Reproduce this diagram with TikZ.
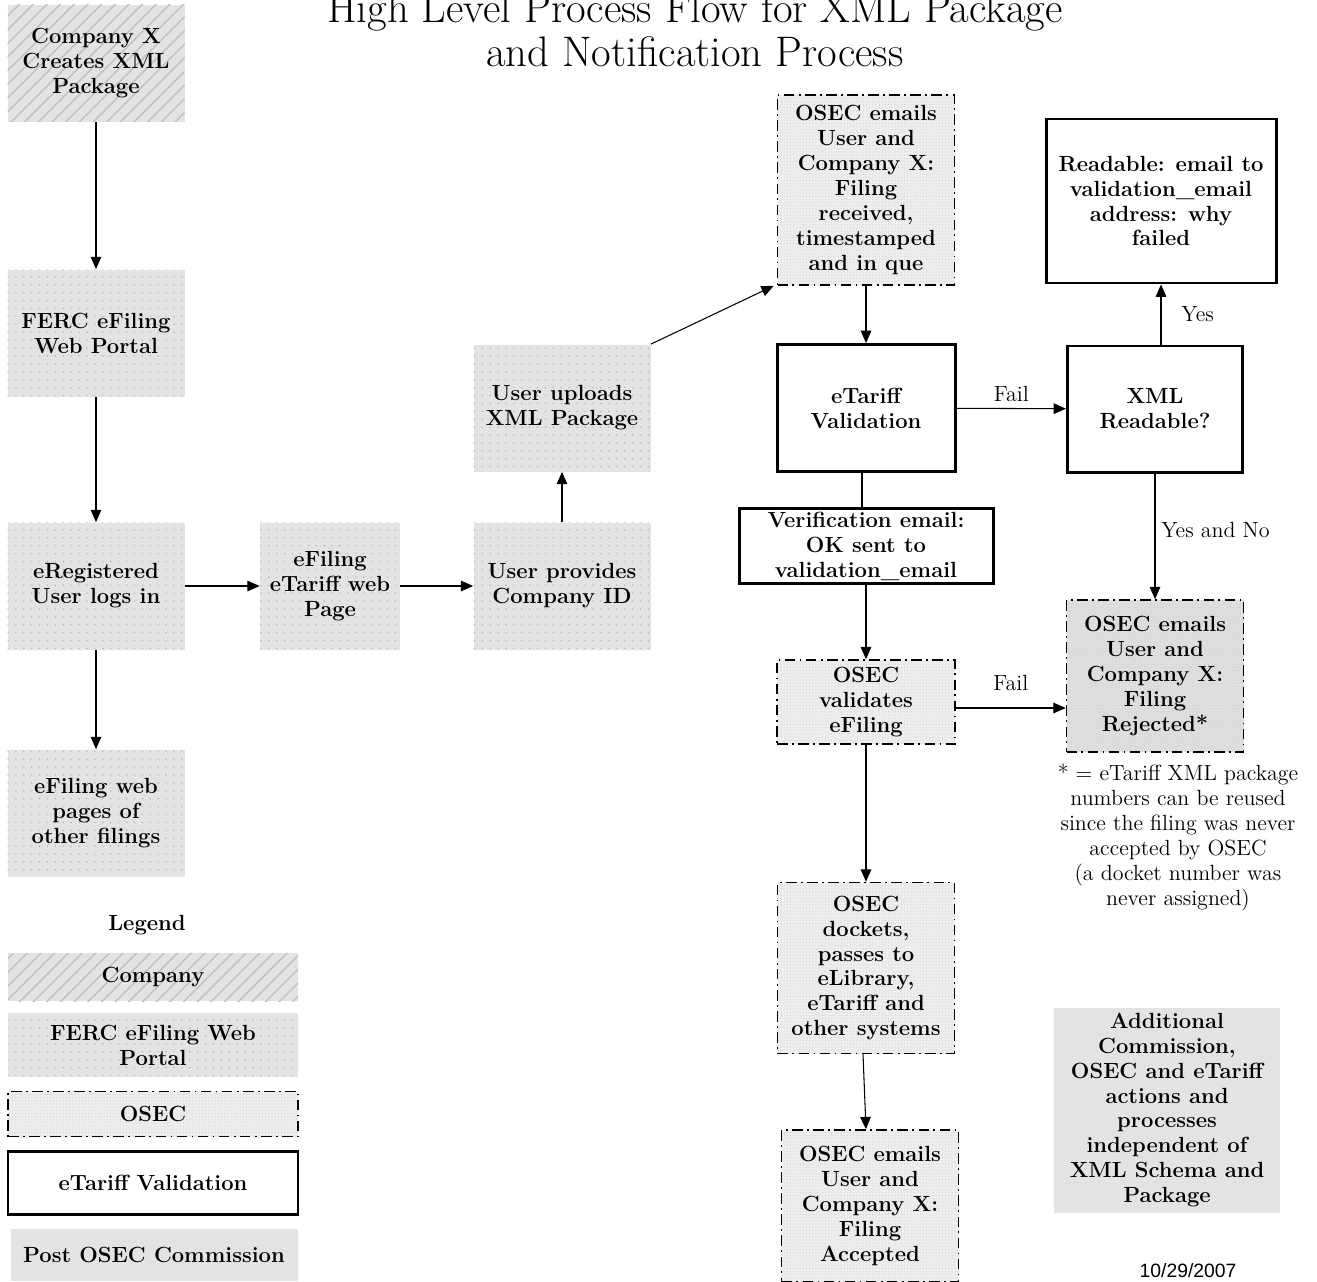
\documentclass[tikz,border=0pt]{standalone}
\usetikzlibrary{patterns.meta,arrows.meta}
\usepackage{fontspec}
\newfontfamily\datefont{Liberation Sans}
\begin{document}
\begin{tikzpicture}[x=0.02cm,y=-0.02cm,
  sz/.style 2 args={minimum width=#1*0.02cm, minimum height=#2*0.02cm},
  base/.style={inner sep=1pt, align=center, font=\bfseries\fontsize{12.5}{14.2}\selectfont},
  company/.style={base, preaction={fill=black!11}, pattern={Lines[angle=45,distance=5.5pt,line width=0.8pt]}, pattern color=black!25},
  ferc/.style={base, preaction={fill=black!11}, pattern={Dots[distance=4.5pt,radius=0.45pt]}, pattern color=black!30},
  osec/.style={base, preaction={fill=black!7}, pattern={Dots[distance=1.8pt,radius=0.3pt]}, pattern color=black!18,
     draw, line width=0.9pt, dash pattern=on 6pt off 2.5pt on 1pt off 2.5pt},
  osecdark/.style={osec, preaction={fill=black!13}},
  valbox/.style={base, draw, line width=1.7pt, fill=white},
  post/.style={base, fill=black!11},
  arr/.style={-{Triangle[length=7pt,width=6pt]}, line width=0.6pt},
  lnk/.style={line width=0.6pt},
  lbl/.style={font=\fontsize{12.5}{14.2}\selectfont}
]
\useasboundingbox (0,0) rectangle (1317,1281);

% title
\node[font=\fontsize{24.3}{25}\selectfont, align=center, inner sep=0pt] (title) at (695,30) {High Level Process Flow for XML Package\\and Notification Process};

% left column
\node[company, sz={177}{117}] (cx) at (96,63) {Company X\\Creates XML\\Package};
\node[ferc, sz={177}{127}] (ferc) at (96,333) {FERC eFiling\\Web Portal};
\node[ferc, sz={177}{127}] (ereg) at (96,586) {eRegistered\\User logs in};
\node[ferc, sz={177}{127}] (other) at (96,813) {eFiling web\\pages of\\other filings};
\node[ferc, sz={140}{127}] (etp) at (330,586) {eFiling\\eTariff web\\Page};
\node[ferc, sz={177}{127}] (cid) at (562,586) {User provides\\Company ID};
\node[ferc, sz={177}{127}] (upl) at (562,408) {User uploads\\XML Package};

% right part
\node[osec, sz={177}{190}] (recv) at (866,190) {OSEC emails\\User and\\Company X:\\Filing\\received,\\timestamped\\and in que};
\node[valbox, sz={178}{127}] (val) at (866,408) {eTariff\\Validation};
\node[valbox, sz={175}{126}] (xmlr) at (1155,409) {XML\\Readable?};
\node[valbox, sz={230}{164}] (rde) at (1161,201) {Readable: email to\\validation\_email\\address: why\\failed};
\node[valbox, sz={254}{75}] (ver) at (866,546) {Verification email:\\OK sent to\\validation\_email};
\node[osec, sz={178}{84}] (ovl) at (866,702) {OSEC\\validates\\eFiling};
\node[osecdark, sz={177}{152}] (rej) at (1155,676) {OSEC emails\\User and\\Company X:\\Filing\\Rejected*};
\node[lbl, align=center, anchor=north, inner sep=0pt] (note) at (1178,764) {* = eTariff XML package\\numbers can be reused\\since the filing was never\\accepted by OSEC\\(a docket number was\\never assigned)};
\node[osec, sz={177}{171}] (dock) at (866,968) {OSEC\\dockets,\\passes to\\eLibrary,\\eTariff and\\other systems};
\node[osec, sz={177}{152}] (acc) at (870,1206) {OSEC emails\\User and\\Company X:\\Filing\\Accepted};
\node[post, sz={226}{205}] (add) at (1167,1110) {Additional\\Commission,\\OSEC and eTariff\\actions and\\processes\\independent of\\XML Schema and\\Package};
\node[font=\datefont\fontsize{11}{12}\selectfont] (date) at (1188,1271) {10/29/2007};

% legend
\node[base] (legend) at (147,925) {Legend};
\node[company, sz={290}{48}] (lc) at (153,977) {Company};
\node[ferc, sz={290}{64}] (lf) at (153,1045) {FERC eFiling Web\\Portal};
\node[osec, sz={290}{45}] (lo) at (153,1114) {OSEC};
\node[valbox, sz={290}{63}] (lv) at (153,1183) {eTariff Validation};
\node[post, sz={287}{52}] (lp) at (154,1255) {Post OSEC Commission};

% connectors
\draw[arr] (cx) -- (ferc);
\draw[arr] (ferc) -- (ereg);
\draw[arr] (ereg) -- (other);
\draw[arr] (ereg) -- (etp);
\draw[arr] (etp) -- (cid);
\draw[arr] (cid) -- (upl);
\draw[arr] (upl.north east) -- ([xshift=-3*0.02cm]recv.south west);
\draw[arr] (recv) -- (val);
\draw[arr] (val) -- node[lbl, above] {Fail} (xmlr);
\draw[arr] (xmlr.north -| rde.south) -- node[lbl, right, xshift=8pt] {Yes} (rde.south);
\draw[arr] (xmlr) -- node[lbl, right, pos=0.45] {Yes and No} (rej);
\draw[lnk] ([xshift=-4*0.02cm]val.south) -- ([xshift=-4*0.02cm]ver.north);
\draw[arr] (ver) -- (ovl);
\draw[arr] (ovl.east |- 0,708) -- node[lbl, above, yshift=6pt] {Fail} (rej.west |- 0,708);
\draw[arr] (ovl) -- (dock);
\draw[arr] ([xshift=-3*0.02cm]dock.south) -- ([xshift=-4*0.02cm]acc.north);
\end{tikzpicture}
\end{document}
